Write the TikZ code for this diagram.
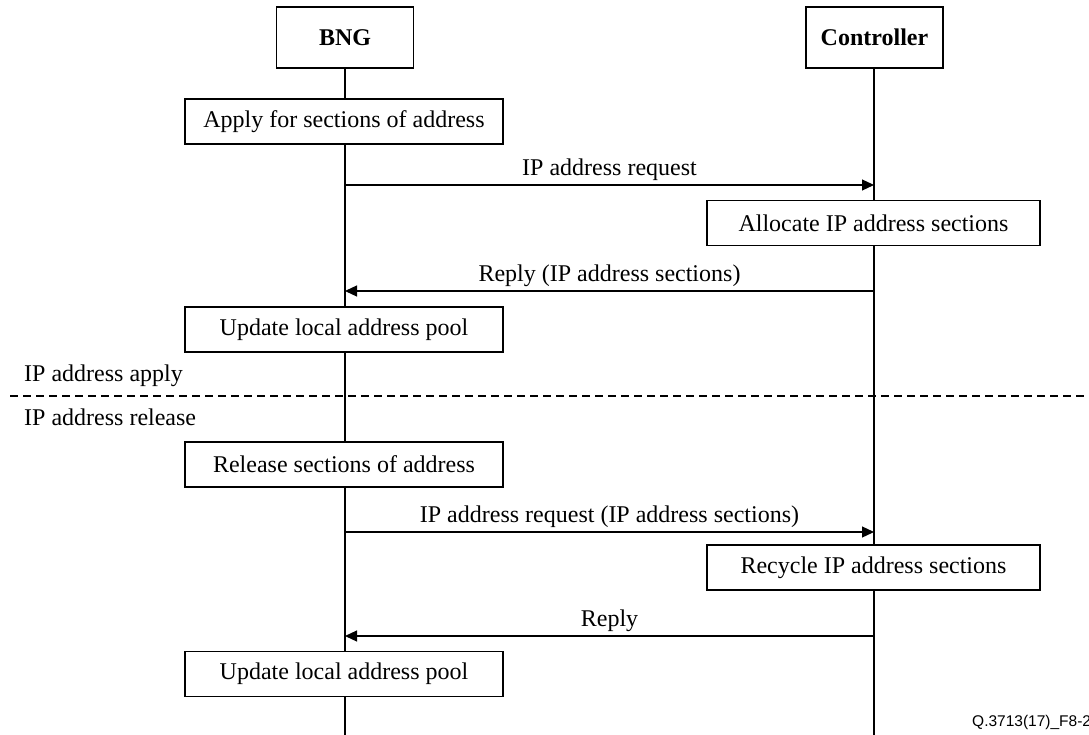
\documentclass[tikz,border=0pt]{standalone}
\usepackage{fontspec}
\setmainfont{Liberation Serif}
\newfontfamily\labelsans{Liberation Sans}
\usetikzlibrary{arrows.meta}
\begin{document}
\begin{tikzpicture}[x=1pt,y=-1pt,
  every node/.style={font=\fontsize{24}{26}\selectfont, inner sep=0pt},
  actor/.style={draw, line width=1.2pt, minimum width=137pt, minimum height=61pt, font=\fontsize{24}{26}\selectfont\bfseries},
  actbox/.style={draw, line width=1.2pt, fill=white, minimum height=45pt},
  lifeline/.style={line width=1.2pt},
  msg/.style={line width=1.2pt, -{Triangle[length=12pt,width=11pt]}},
  msglabel/.style={anchor=south, inner sep=0pt, yshift=4pt}
]
\useasboundingbox (0,0) rectangle (1089,735);
% actors
\node[actor] (bng) at (345,37.5) {BNG};
\node[actor] (ctl) at (874.5,37.5) {Controller};
\coordinate (bngend) at (345,735);
\coordinate (ctlend) at (874,735);
\draw[lifeline] (bng.south) -- (bngend);
\draw[lifeline] (ctl.south -| ctlend) -- (ctlend);
% activity boxes
\node[actbox, minimum width=318pt] (apply) at (344,121.5) {Apply for sections of address};
\node[actbox, minimum width=333pt] (alloc) at (873.5,223) {Allocate IP address sections};
\node[actbox, minimum width=318pt] (upd1) at (344,329.5) {Update local address pool};
\node[actbox, minimum width=318pt] (rel) at (344,464.5) {Release sections of address};
\node[actbox, minimum width=333pt] (recyc) at (873.5,567.5) {Recycle IP address sections};
\node[actbox, minimum width=318pt] (upd2) at (344,674) {Update local address pool};
% messages
\coordinate (b1) at (345,185); \coordinate (c1) at (874,185);
\coordinate (b2) at (345,291); \coordinate (c2) at (874,291);
\coordinate (b3) at (345,532); \coordinate (c3) at (874,532);
\coordinate (b4) at (345,636); \coordinate (c4) at (874,636);
\draw[msg] (b1) -- node[msglabel] (m1) {IP address request} (c1);
\draw[msg] (c2) -- node[msglabel] (m2) {Reply (IP address sections)} (b2);
\draw[msg] (b3) -- node[msglabel] (m3) {IP address request (IP address sections)} (c3);
\draw[msg] (c4) -- node[msglabel] (m4) {Reply} (b4);
% phase separator
\coordinate (dl) at (10,396); \coordinate (dr) at (1089,396);
\draw[line width=1.1pt, dash pattern=on 8pt off 5pt] (dl) -- (dr);
\node[anchor=west] (ph1) at (24,376) {IP address apply};
\node[anchor=west] (ph2) at (24,417) {IP address release};
% figure id
\node[anchor=west, font=\labelsans\fontsize{15.5}{17}\selectfont] (fid) at (972,722) {Q.3713(17)\_F8-2};
\end{tikzpicture}
\end{document}
